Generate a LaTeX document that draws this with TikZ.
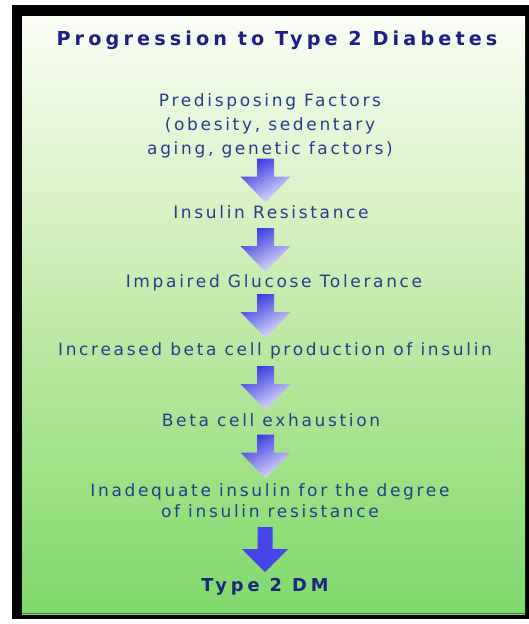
\documentclass[tikz,border=0pt]{standalone}
\usepackage{fontspec}
\setmainfont{DejaVu Sans}
\newfontfamily\bodyfont[LetterSpace=15.7]{DejaVu Sans}
\newfontfamily\titlefont[LetterSpace=21.5]{DejaVu Sans}
\newfontfamily\dmfont[LetterSpace=22]{DejaVu Sans}
\definecolor{titleblue}{RGB}{30,30,135}
\definecolor{bodyblue}{RGB}{40,60,140}
\definecolor{dmblue}{RGB}{25,40,125}
\definecolor{arrowdark}{RGB}{55,55,225}
\definecolor{arrowlight}{RGB}{228,228,250}
\definecolor{arrowsolid}{RGB}{70,70,232}
\definecolor{edgegreen}{RGB}{70,130,60}
\definecolor{gzero}{RGB}{128,216,108}
\definecolor{gone}{RGB}{152,224,128}
\definecolor{gtwo}{RGB}{185,232,160}
\definecolor{gthree}{RGB}{218,242,198}
\definecolor{gfour}{RGB}{238,249,228}
\definecolor{gfive}{RGB}{250,253,246}
\pgfdeclareverticalshading{bgshade}{100bp}{color(0bp)=(gzero); color(25bp)=(gzero); color(34.5bp)=(gone); color(47.1bp)=(gtwo); color(59.6bp)=(gthree); color(69.6bp)=(gfour); color(75bp)=(gfive); color(100bp)=(gfive)}
\tikzset{
  titletext/.style={font=\titlefont\bfseries\fontsize{19.2}{22}\selectfont, text=titleblue, inner sep=0pt, anchor=base},
  bodytext/.style={font=\bodyfont\fontsize{17}{24}\selectfont, text=bodyblue, inner sep=0pt, align=center, anchor=base},
  dmtext/.style={font=\dmfont\bfseries\fontsize{17.8}{20}\selectfont, text=dmblue, inner sep=0pt, anchor=base},
  fadearrow/.style={top color=arrowdark, bottom color=arrowlight, shading angle=30},
  solidarrow/.style={fill=arrowsolid}
}
\newcommand{\fadeblock}[1]{\begin{scope}[shift={(#1)}]\path[fadearrow] (-8.5,-22) -- (8.5,-22) -- (8.5,-4) -- (25,-4) -- (0,22) -- (-25,-4) -- (-8.5,-4) -- cycle;\end{scope}}
\newcommand{\solidblock}[1]{\begin{scope}[shift={(#1)}]\path[solidarrow] (-7.5,-22.5) -- (7.5,-22.5) -- (7.5,-0.5) -- (23,-0.5) -- (0,22.5) -- (-23,-0.5) -- (-7.5,-0.5) -- cycle;\end{scope}}
\begin{document}
\begin{tikzpicture}[x=1pt,y=-1pt]
\useasboundingbox (0,0) rectangle (529,624);
\fill[white] (0,0) rectangle (529,624);
\fill[black] (12,5) rectangle (529,619);
\shade[shading=bgshade] (22,16) rectangle (525,614);
\draw[edgegreen, line width=1.2pt] (22,613.4) -- (525,613.4);

\node[titletext] (title) at (277,45) {Progression to Type 2 Diabetes};
\node[bodytext] (pf) at (270,154) {Predisposing Factors\\(obesity, sedentary\\aging, genetic factors)};
\node[bodytext] (ir) at (271,218) {Insulin Resistance};
\node[bodytext] (igt) at (274,287) {Impaired Glucose Tolerance};
\node[bodytext] (ibc) at (275,355) {Increased beta cell production of insulin};
\node[bodytext] (bce) at (271,426) {Beta cell exhaustion};
\node[bodytext, font=\bodyfont\fontsize{17}{21}\selectfont] (iid) at (270,517) {Inadequate insulin for the degree\\of insulin resistance};
\node[dmtext] (dm) at (265,591) {Type 2 DM};

\coordinate (a1) at (265.5,180.5);
\coordinate (a2) at (265.5,250);
\coordinate (a3) at (265.5,316);
\coordinate (a4) at (265.5,388);
\coordinate (a5) at (265.5,456.5);
\coordinate (a6) at (265,549.5);
\fadeblock{a1}
\fadeblock{a2}
\fadeblock{a3}
\fadeblock{a4}
\fadeblock{a5}
\solidblock{a6}
\end{tikzpicture}
\end{document}
